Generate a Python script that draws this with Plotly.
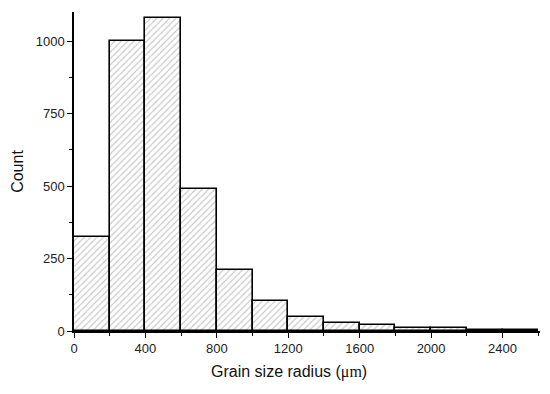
import plotly.graph_objects as go

bin_starts = [0, 200, 400, 600, 800, 1000, 1200, 1400, 1600, 1800, 2000, 2200, 2400]
bin_width = 200
counts = [323, 1001, 1078, 488, 210, 104, 49, 28, 19, 10, 10, 4, 2]
x_tick_vals = [0, 400, 800, 1200, 1600, 2000, 2400]
y_tick_vals = [0, 250, 500, 750, 1000]

centers = [s + bin_width / 2 for s in bin_starts]

fig = go.Figure()
fig.add_trace(go.Bar(
    x=centers, y=counts, width=bin_width,
    marker=dict(
        color="white",
        line=dict(color="black", width=1.6),
        pattern=dict(shape="/", fgcolor="#8a8a8a", bgcolor="white", size=4.5, solidity=0.25),
    ),
    showlegend=False,
))

axis_font = dict(family="Liberation Sans, Arial, sans-serif", size=13, color="#222")
title_font = dict(family="Liberation Sans, Arial, sans-serif", size=16, color="#111")
fig.update_layout(
    width=550, height=394,
    margin=dict(l=74, r=10, t=12, b=63),
    plot_bgcolor="white", paper_bgcolor="white",
    bargap=0,
    xaxis=dict(
        range=[0, 2610], tickvals=x_tick_vals, ticks="outside", ticklen=5, tickwidth=1.3,
        tickcolor="black", showline=True, linecolor="black", linewidth=1.5,
        showgrid=False, zeroline=False, tickfont=axis_font, automargin=False,
        minor=dict(dtick=200, tick0=0, ticks="outside", ticklen=3, tickcolor="black", showgrid=False),
    ),
    yaxis=dict(
        range=[0, 1100], tickvals=y_tick_vals, ticks="outside", ticklen=5, tickwidth=1.3,
        tickcolor="black", showline=True, linecolor="black", linewidth=1.5,
        showgrid=False, zeroline=False, tickfont=axis_font, automargin=False,
        minor=dict(dtick=125, tick0=0, ticks="outside", ticklen=3, tickcolor="black", showgrid=False),
        title=dict(text="Count", font=title_font, standoff=8),
    ),
)
fig.add_annotation(
    text="Grain size radius (<span style='font-family:Liberation Serif, Times New Roman, serif'>μm</span>)",
    xref="paper", yref="paper", x=(289 - 74) / (540 - 74), y=-0.128,
    xanchor="center", yanchor="middle", showarrow=False, font=title_font,
)

fig.write_html("out.html", post_script="document.body.style.margin='0';",
               config={"displayModeBar": False})
